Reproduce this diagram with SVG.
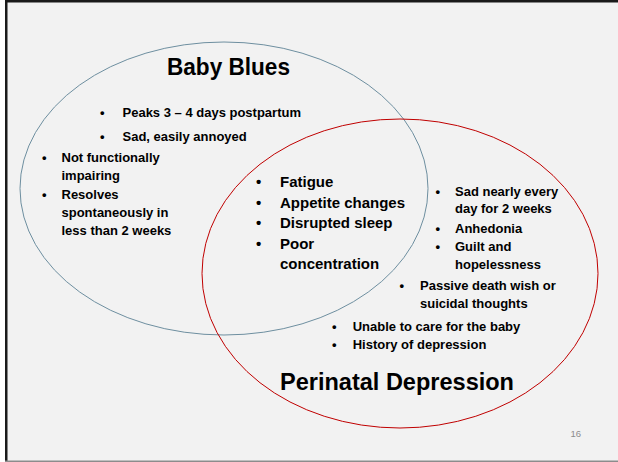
<svg xmlns="http://www.w3.org/2000/svg" width="618" height="462" viewBox="0 0 618 462">
<style>
text{font-family:"Liberation Sans",Arial,sans-serif;font-weight:bold;fill:#000}
.s{font-size:13px}
.m{font-size:15px}
.t{font-size:23.5px}
.pg{font-size:9.5px;font-weight:normal;fill:#8c8c8c}
</style>
<rect x="0" y="0" width="618" height="462" fill="#ffffff"/>
<rect x="6" y="1" width="612" height="460" fill="#f2f2f2"/>
<rect x="5" y="0" width="613" height="2.5" fill="#1a1a1a"/>
<rect x="5" y="0" width="2.5" height="462" fill="#1a1a1a"/>
<rect x="5" y="460.5" width="613" height="1.5" fill="#8c8c8c"/>
<g id="baby-blues">
<ellipse cx="224" cy="188.5" rx="204" ry="146.5" fill="none" stroke="#6e8fa0" stroke-width="1"/>
<text class="t" x="228.5" y="75" text-anchor="middle" textLength="123" lengthAdjust="spacingAndGlyphs">Baby Blues</text>
<text class="s" x="100" y="117">•</text><text class="s" x="122.5" y="117">Peaks 3 – 4 days postpartum</text>
<text class="s" x="100" y="140.5">•</text><text class="s" x="122.5" y="140.5">Sad, easily annoyed</text>
<text class="s" x="42" y="161.5">•</text><text class="s" x="61.5" y="161.5">Not functionally</text>
<text class="s" x="61.5" y="180">impairing</text>
<text class="s" x="42" y="198.5">•</text><text class="s" x="61.5" y="198.5">Resolves</text>
<text class="s" x="61.5" y="216.8">spontaneously in</text>
<text class="s" x="61.5" y="235">less than 2 weeks</text>
</g>
<g id="perinatal-depression">
<ellipse cx="400" cy="273.5" rx="198" ry="154.5" fill="none" stroke="#c00000" stroke-width="1"/>
<text class="t" x="397" y="390" text-anchor="middle" textLength="234" lengthAdjust="spacingAndGlyphs">Perinatal Depression</text>
<text class="s" x="435.5" y="196">•</text><text class="s" x="455" y="196">Sad nearly every</text>
<text class="s" x="455" y="213.3">day for 2 weeks</text>
<text class="s" x="435.5" y="232.7">•</text><text class="s" x="455" y="232.7">Anhedonia</text>
<text class="s" x="435.5" y="250.7">•</text><text class="s" x="455" y="250.7">Guilt and</text>
<text class="s" x="455" y="269.3">hopelessness</text>
<text class="s" x="399.5" y="290">•</text><text class="s" x="420" y="290">Passive death wish or</text>
<text class="s" x="420" y="308.3">suicidal thoughts</text>
<text class="s" x="332" y="330.7">•</text><text class="s" x="352.7" y="330.7">Unable to care for the baby</text>
<text class="s" x="332" y="349.3">•</text><text class="s" x="352.7" y="349.3">History of depression</text>
</g>
<g id="overlap">
<text class="m" x="256" y="186.7">•</text><text class="m" x="280" y="186.7">Fatigue</text>
<text class="m" x="256" y="207.7">•</text><text class="m" x="280" y="207.7">Appetite changes</text>
<text class="m" x="256" y="228.3">•</text><text class="m" x="280" y="228.3">Disrupted sleep</text>
<text class="m" x="256" y="248.5">•</text><text class="m" x="280" y="248.5">Poor</text>
<text class="m" x="280" y="269.3">concentration</text>
</g>
<g id="connectors"></g>
<text class="pg" x="570.5" y="436.5">16</text>
</svg>
